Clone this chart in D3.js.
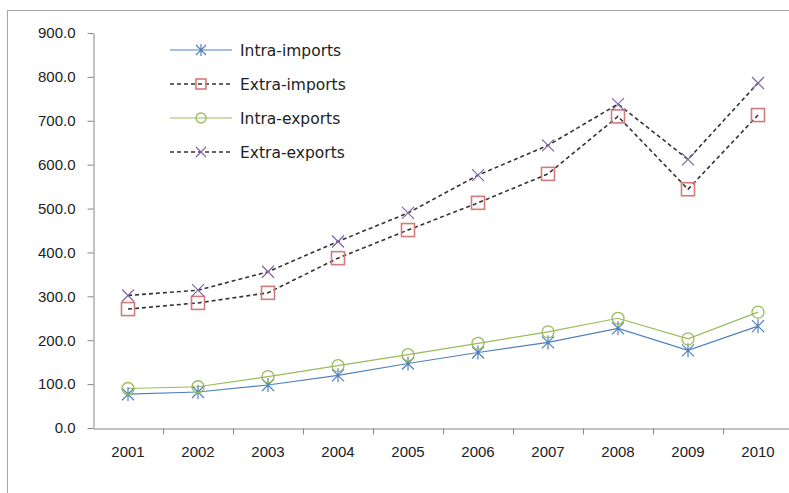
<!DOCTYPE html>
<html>
<head>
<meta charset="utf-8">
<script src="https://cdn.jsdelivr.net/npm/d3@7"></script>
<style>
  body { margin: 0; background: #fff; }
  svg { display: block; font-family: "DejaVu Sans", Verdana, sans-serif; }
</style>
</head>
<body>
<div id="chart"></div>
<script>
// values
const years = ["2001", "2002", "2003", "2004", "2005", "2006", "2007", "2008", "2009", "2010"];
const intraImports = [77, 82, 98, 120, 147, 172, 195, 227, 177, 232];
const extraImports = [271, 285, 308, 387, 451, 513, 579, 710, 544, 713];
const intraExports = [90, 94, 117, 142, 167, 193, 219, 250, 203, 264];
const extraExports = [302, 314, 356, 425, 490, 576, 644, 738, 612, 786];
const yTicks = [0, 100, 200, 300, 400, 500, 600, 700, 800, 900];

const series = [
    { name: "Intra-imports", values: intraImports, line: "#4f81bd", dash: null, marker: "star", mcolor: "#4f81bd" },
    { name: "Extra-imports", values: extraImports, line: "#333333", dash: "4,3", marker: "square", mcolor: "#d27c7a" },
    { name: "Intra-exports", values: intraExports, line: "#9bbb59", dash: null, marker: "circle", mcolor: "#9bbb59" },
    { name: "Extra-exports", values: extraExports, line: "#333333", dash: "4,3", marker: "cross", mcolor: "#8064a2" }
];

const width = 789, height = 493;
const svg = d3.select("#chart").append("svg")
    .attr("width", width)
    .attr("height", height);

// outer chart border
svg.append("rect")
    .attr("x", 7.5).attr("y", 10.5)
    .attr("width", 800).attr("height", 500)
    .attr("fill", "none")
    .attr("stroke", "#a6a6a6");

const x = d3.scaleBand().domain(years).range([93, 793]);
const y = d3.scaleLinear().domain([0, 900]).range([428, 33]);

const axisColor = "#868686";

// y axis
const gy = svg.append("g")
    .attr("transform", "translate(93.5,0)")
    .call(d3.axisLeft(y).tickValues(yTicks).tickSizeInner(6).tickSizeOuter(0)
        .tickPadding(12).tickFormat(d3.format(".1f")));
gy.selectAll("path, line").attr("stroke", axisColor);
gy.selectAll("text").attr("font-size", 15).attr("fill", "#222").attr("font-family", null);

// x axis, labels centred in each band
const gx = svg.append("g")
    .attr("transform", "translate(0,428.5)")
    .call(d3.axisBottom(x).tickSizeInner(0).tickSizeOuter(0).tickPadding(18));
gx.select(".domain").attr("stroke", axisColor);
gx.selectAll("text").attr("font-size", 15).attr("fill", "#222").attr("font-family", null);

// tick marks between categories
gx.selectAll(".sep")
    .data(years.slice(1))
    .enter().append("line")
    .attr("class", "sep")
    .attr("x1", d => Math.round(x(d)) + 0.5)
    .attr("x2", d => Math.round(x(d)) + 0.5)
    .attr("y1", 0).attr("y2", 6)
    .attr("stroke", axisColor);

function drawMarker(g, type, color, s) {
    const h = s / 2;
    if (type === "square") {
        g.append("rect").attr("x", -h).attr("y", -h).attr("width", s).attr("height", s)
            .attr("fill", "none").attr("stroke", color).attr("stroke-width", 1.6);
    } else if (type === "circle") {
        g.append("circle").attr("r", h).attr("fill", "none")
            .attr("stroke", color).attr("stroke-width", 1.3);
    } else if (type === "cross") {
        g.append("path").attr("d", `M${-h},${-h}L${h},${h}M${-h},${h}L${h},${-h}`)
            .attr("stroke", color).attr("stroke-width", 1.2);
    } else {
        g.append("path").attr("d", `M${-h},${-h}L${h},${h}M${-h},${h}L${h},${-h}M0,${-h - 1}L0,${h + 1}`)
            .attr("stroke", color).attr("stroke-width", 1.2);
    }
}

const line = d3.line()
    .x((d, i) => x(years[i]) + x.bandwidth() / 2)
    .y(d => y(d));

// lines
series.forEach(s => {
    svg.append("path")
        .datum(s.values)
        .attr("d", line)
        .attr("fill", "none")
        .attr("stroke", s.line)
        .attr("stroke-width", s.dash ? 1.6 : 1.2)
        .attr("stroke-dasharray", s.dash);
});

// markers
series.forEach(s => {
    s.values.forEach((v, i) => {
        const g = svg.append("g")
            .attr("transform", `translate(${x(years[i]) + x.bandwidth() / 2},${y(v)})`);
        drawMarker(g, s.marker, s.mcolor, s.marker === "square" ? 13 : 12);
    });
});

// legend
const legend = svg.append("g");
series.forEach((s, i) => {
    const ly = 50 + i * 34;
    const g = legend.append("g").attr("transform", `translate(0,${ly})`);
    g.append("line")
        .attr("x1", 170).attr("x2", 232)
        .attr("y1", 0).attr("y2", 0)
        .attr("stroke", s.line)
        .attr("stroke-width", s.dash ? 1.6 : 1.2)
        .attr("stroke-dasharray", s.dash);
    const m = g.append("g").attr("transform", "translate(201,0)");
    drawMarker(m, s.marker, s.mcolor, 10);
    g.append("text")
        .attr("x", 240).attr("y", 0).attr("dy", "0.36em")
        .attr("font-size", 15.5)
        .attr("fill", "#222")
        .text(s.name);
});
</script>
</body>
</html>
